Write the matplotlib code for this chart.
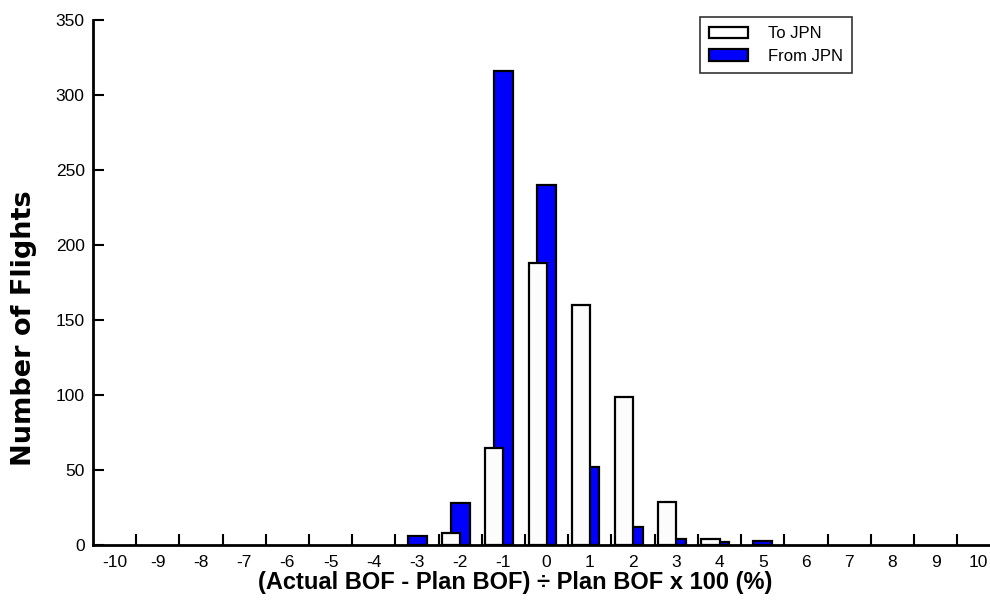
import matplotlib
matplotlib.use("Agg")
import matplotlib.pyplot as plt
import numpy as np
from matplotlib.patches import Patch

categories = list(range(-10, 11))
to_jpn = [0, 0, 0, 0, 0, 0, 0, 0, 8, 65, 188, 160, 99, 29, 4, 0, 0, 0, 0, 0, 0]
from_jpn = [0, 0, 0, 0, 0, 0, 0, 6, 28, 316, 240, 52, 12, 4, 2, 3, 0, 0, 0, 0, 0]
y_ticks = [0, 50, 100, 150, 200, 250, 300, 350]

plt.rcParams['font.family'] = ['Liberation Sans', 'DejaVu Sans']

fig = plt.figure(figsize=(9.9, 6.11), dpi=100)
ax = fig.add_axes([93/990, (611-545)/611, (990-93)/990, (545-20)/611])

x = np.array(categories, dtype=float)
tj = np.array(to_jpn, dtype=float)
fj = np.array(from_jpn, dtype=float)
mf = fj > 0
mt = tj > 0
ax.bar(x[mf], fj[mf], width=0.44, color='#0000ff', edgecolor='black', linewidth=1.6, zorder=2)
ax.bar(x[mt] - 0.21, tj[mt], width=0.42, color='#fcfcfc', edgecolor='black', linewidth=1.6, zorder=3)

ax.set_xlim(-10.5, 10.26)
ax.set_ylim(0, 350)
ax.set_yticks(y_ticks)
ax.set_xticks(categories)
ax.set_xticklabels([str(c) for c in categories])
ax.set_xticks(np.arange(-9.5, 10.0, 1.0), minor=True)
ax.tick_params(axis='x', which='major', length=0, labelsize=12.5, pad=7)
ax.tick_params(axis='x', which='minor', direction='in', length=8, width=1.5)
ax.tick_params(axis='y', direction='in', length=8, width=1.5, labelsize=12.5, pad=6)

for s in ['top', 'right']:
    ax.spines[s].set_visible(False)
for s in ['left', 'bottom']:
    ax.spines[s].set_linewidth(2)

ax.set_ylabel('Number of Flights', fontsize=19.5, fontweight='bold', family='DejaVu Sans')
ax.yaxis.set_label_coords(-(93-24)/897, (545-328)/525)
ax.set_xlabel('(Actual BOF - Plan BOF) \u00f7 Plan BOF x 100 (%)', fontsize=17, fontweight='bold')
ax.xaxis.set_label_coords((515-93)/897, -(582-545)/525)
ax.xaxis.label.set_va('center')
ax.yaxis.label.set_va('center')

handles = [Patch(facecolor='white', edgecolor='black', linewidth=1.6, label='To JPN'),
           Patch(facecolor='#0000ff', edgecolor='black', linewidth=1.6, label='From JPN')]
leg = ax.legend(handles=handles, loc='upper left', bbox_to_anchor=((700-93)/897, (545-17)/525),
                fontsize=12, frameon=True, fancybox=False, edgecolor='black',
                handlelength=2.3, handleheight=0.7, borderpad=0.55, labelspacing=0.45,
                handletextpad=1.2, borderaxespad=0)
leg.get_frame().set_linewidth(1.2)

fig.savefig('out.png', dpi=100)
